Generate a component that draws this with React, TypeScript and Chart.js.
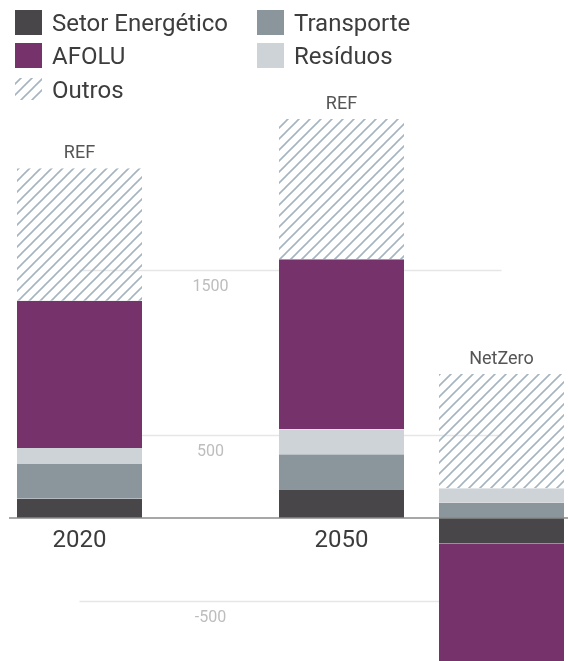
import { useEffect, useRef } from "react";
import { Chart, registerables } from "chart.js";
Chart.register(...registerables);

const categories = ["2020", "2050"];
const stackNames = ["REF", "NetZero"];
const seriesNames = ["Setor Energético", "Transporte", "Resíduos", "AFOLU", "Outros"];
const seriesColors = ["#484649", "#8a959c", "#cdd3d6", "#76326a", "hatch"];

const setorREF = [117, 174];
const transporteREF = [210, 212];
const residuosREF = [97, 151];
const afoluREF = [891, 1029];
const outrosREF = [802, 849];

const setorNZ = [null, -153];
const transporteNZ = [null, 93];
const residuosNZ = [null, 87];
const afoluNZ = [null, -750];
const outrosNZ = [null, 692];

const yTicks = [-500, 500, 1500];
const yMin = -866;
const yMax = 2600;

const FONT = "Roboto, 'Noto Sans', sans-serif";

function makeHatch(): CanvasPattern | string {
  const c = document.createElement("canvas");
  const s = 11;
  c.width = s;
  c.height = s;
  const g = c.getContext("2d");
  if (!g) return "#a8b6c2";
  g.strokeStyle = "#a6b4c0";
  g.lineWidth = 1.6;
  g.beginPath();
  g.moveTo(-1, s + 1);
  g.lineTo(s + 1, -1);
  g.moveTo(-2, 2);
  g.lineTo(2, -2);
  g.moveTo(s - 2, s + 2);
  g.lineTo(s + 2, s - 2);
  g.stroke();
  const p = g.createPattern(c, "repeat");
  return p || "#a8b6c2";
}

export default function App() {
  const ref = useRef<HTMLCanvasElement | null>(null);

  useEffect(() => {
    const canvas = ref.current;
    if (!canvas) return;
    const hatch = makeHatch();
    const colorOf = (i: number) => (seriesColors[i] === "hatch" ? hatch : seriesColors[i]);

    const refSeries = [setorREF, transporteREF, residuosREF, afoluREF, outrosREF];
    const nzSeries = [setorNZ, transporteNZ, residuosNZ, afoluNZ, outrosNZ];

    const common = {
      barThickness: 160,
      borderWidth: { left: 17.5, right: 17.5, top: 0, bottom: 0 },
      borderColor: "rgba(0,0,0,0)",
      inflateAmount: 0,
      clip: false as const,
    };

    const datasets: any[] = [];
    refSeries.forEach((d, i) =>
      datasets.push({ label: seriesNames[i], data: d, stack: stackNames[0], backgroundColor: colorOf(i), ...common })
    );
    nzSeries.forEach((d, i) =>
      datasets.push({ label: seriesNames[i], data: d, stack: stackNames[1], backgroundColor: colorOf(i), ...common })
    );

    const overlay = {
      id: "overlay",
      beforeDatasetsDraw(chart: any) {
        const ctx = chart.ctx;
        const y = chart.scales.y;
        const refTop = chart.getDatasetMeta(4);
        const nzTop = chart.getDatasetMeta(9);
        const x0 = refTop.data[0].x;
        const x1 = nzTop.data[1].x;
        ctx.save();
        ctx.strokeStyle = "#e6e6e6";
        ctx.lineWidth = 1.5;
        yTicks.forEach((t) => {
          const yy = Math.round(y.getPixelForValue(t)) + 0.5;
          ctx.beginPath();
          ctx.moveTo(x0, yy);
          ctx.lineTo(x1, yy);
          ctx.stroke();
        });
        ctx.restore();
      },
      afterDatasetsDraw(chart: any) {
        const ctx = chart.ctx;
        const y = chart.scales.y;
        const refTop = chart.getDatasetMeta(4);
        const nzTop = chart.getDatasetMeta(9);
        ctx.save();
        // zero line
        const y0 = y.getPixelForValue(0);
        ctx.strokeStyle = "#8a8a8a";
        ctx.lineWidth = 1.5;
        ctx.beginPath();
        ctx.moveTo(9, y0);
        ctx.lineTo(chart.width, y0);
        ctx.stroke();

        // tick labels
        const tx = (refTop.data[0].x + refTop.data[1].x) / 2;
        ctx.fillStyle = "#bdbdbd";
        ctx.font = `16px ${FONT}`;
        ctx.textAlign = "center";
        ctx.textBaseline = "middle";
        yTicks.forEach((t) => {
          ctx.fillText(String(t), tx, y.getPixelForValue(t) + 17);
        });

        // top labels
        ctx.fillStyle = "#555555";
        ctx.font = `18px ${FONT}`;
        refTop.data.forEach((el: any) => {
          ctx.fillText(stackNames[0], el.x, el.y - 15);
        });
        const nzEl = nzTop.data[1];
        ctx.fillText(stackNames[1], nzEl.x, nzEl.y - 14);

        // category labels
        ctx.fillStyle = "#3c3c3c";
        ctx.font = `24px ${FONT}`;
        categories.forEach((c, i) => {
          ctx.fillText(c, refTop.data[i].x, y0 + 23);
        });

        // legend
        const items = [
          { i: 0, x: 15, y: 10 },
          { i: 1, x: 257, y: 10 },
          { i: 3, x: 15, y: 43 },
          { i: 2, x: 257, y: 43 },
          { i: 4, x: 15, y: 77 },
        ];
        ctx.font = `24px ${FONT}`;
        ctx.textAlign = "left";
        items.forEach((it) => {
          const col = colorOf(it.i);
          ctx.fillStyle = col as any;
          if (seriesColors[it.i] === "hatch") {
            ctx.fillRect(it.x, it.y + 1, 27, 22);
          } else {
            ctx.fillRect(it.x, it.y, 27, 25);
          }
          ctx.fillStyle = "#3d3d3d";
          ctx.fillText(seriesNames[it.i], it.x + 37, it.y + 14.5);
        });
        ctx.restore();
      },
    };

    const chart = new Chart(canvas, {
      type: "bar",
      data: { labels: categories, datasets },
      options: {
        animation: false,
        responsive: false,
        layout: { padding: { left: 28.5, right: 15.5, top: 88.5, bottom: 0 } },
        plugins: { legend: { display: false }, tooltip: { enabled: false } },
        scales: {
          x: { display: false, stacked: true, offset: true },
          y: { display: false, stacked: true, min: yMin, max: yMax },
        },
      },
      plugins: [overlay],
    });
    return () => chart.destroy();
  }, []);

  return (
    <div style={{ position: "absolute", left: 0, top: 0, width: 568, height: 661, background: "#fff" }}>
      <canvas ref={ref} width={568} height={661} style={{ display: "block" }} />
    </div>
  );
}
